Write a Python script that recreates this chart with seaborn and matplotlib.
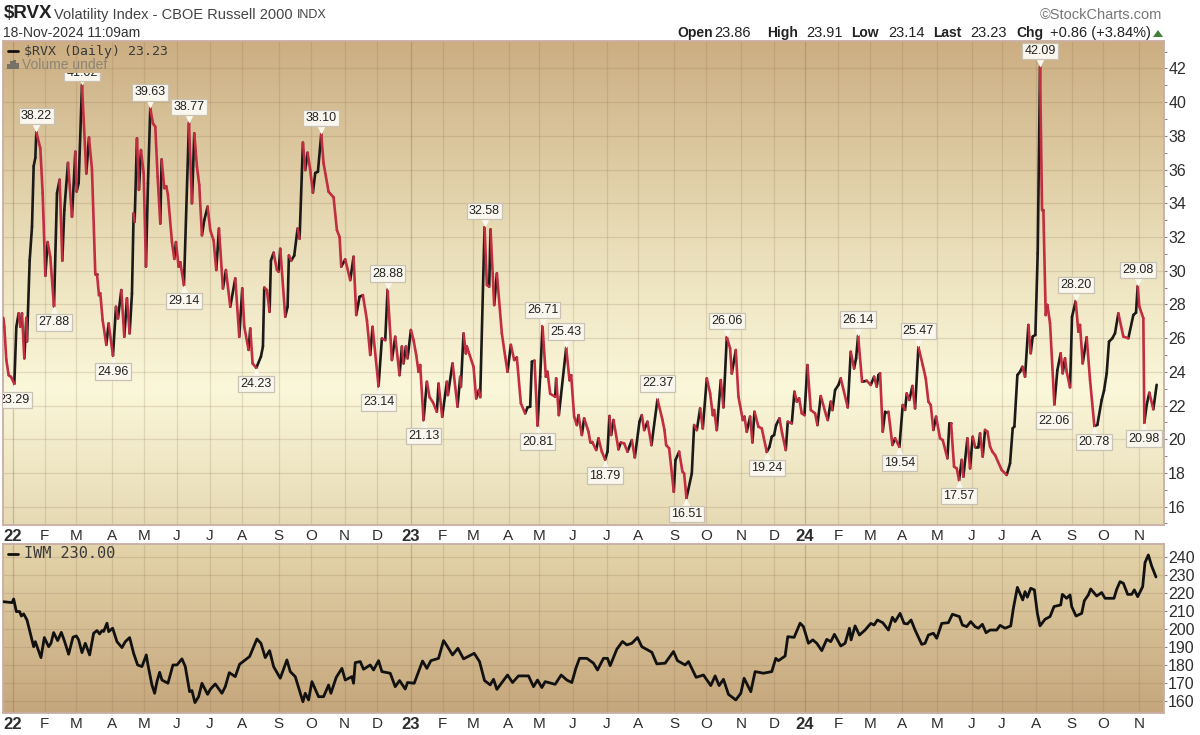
#!/usr/bin/env python3
import matplotlib
matplotlib.use('Agg')
import matplotlib.pyplot as plt
from matplotlib.colors import LinearSegmentedColormap
from matplotlib.lines import Line2D
from matplotlib.patches import Rectangle
from matplotlib.transforms import Bbox, TransformedBbox, offset_copy
import numpy as np
import pandas as pd
import seaborn as sns

# time axis is in chart steps, about five steps to a trading session
rvx_t = [9, 12, 18, 25, 32, 42, 48, 55, 60, 65, 72, 78, 80, 88, 95, 100, 105, 108, 120, 127,
         135, 142, 150, 161, 170, 178, 186, 192, 203, 215, 225, 229, 235, 245, 258, 266, 275, 285, 290, 296,
         300, 307, 318, 325, 338, 347, 353, 363, 372, 380, 388, 395, 400, 403, 410, 416, 422, 430, 437, 443,
         450, 458, 465, 472, 480, 484, 492, 498, 503, 515, 522, 527, 535, 540, 551, 566, 575, 582, 590, 597,
         605, 612, 622, 630, 640, 648, 656, 668, 677, 690, 705, 717, 726, 732, 745, 750, 757, 768, 782, 788,
         792, 800, 808, 812, 820, 830, 835, 840, 855, 862, 866, 873, 882, 892,
         898, 908, 915, 922, 930, 938, 945, 953, 963, 970, 985, 1000, 1010, 1018, 1023, 1035, 1050, 1060, 1068, 1078,
         1088, 1100, 1110, 1117, 1135, 1145, 1155, 1162, 1175, 1185, 1198, 1205, 1210, 1217, 1222, 1232, 1240, 1248, 1255, 1260,
         1270, 1280, 1288, 1298, 1310, 1315, 1326, 1340, 1343, 1357, 1372, 1380, 1382, 1390, 1397, 1400, 1420, 1428, 1436, 1440,
         1453, 1460, 1467, 1471, 1482, 1490, 1505, 1515, 1522, 1532, 1542, 1550, 1562, 1575, 1582, 1590, 1595, 1603, 1612, 1620,
         1627, 1637, 1642, 1650, 1665, 1668, 1676, 1682, 1698, 1708, 1713, 1722, 1730, 1735, 1745, 1752, 1765, 1770,
         1776, 1788, 1795, 1805, 1815, 1822, 1828, 1833, 1840, 1855, 1862, 1872, 1882, 1895, 1904, 1918, 1925, 1932, 1942, 1954,
         1972, 1987, 1993, 1998, 2007, 2021, 2026, 2037, 2047, 2052, 2059, 2075, 2082, 2090, 2100, 2108, 2120, 2130, 2138, 2142,
         2150, 2162, 2170, 2180, 2190, 2195, 2207, 2215, 2228, 2233, 2240, 2250, 2257, 2263, 2275, 2285, 2300, 2308, 2315, 2322,
         2328, 2338, 2346, 2357, 2363, 2375, 2383, 2390, 2397, 2405, 2413, 2422, 2432, 2445, 2452, 2462, 2478, 2483, 2492, 2497,
         2505, 2515, 2522, 2543, 2552, 2562, 2568, 2574, 2586, 2600,
         2612, 2622, 2630, 2635, 2640, 2648, 2655, 2665, 2677, 2685, 2698, 2708, 2715, 2720, 2728, 2737, 2745, 2755, 2768, 2777,
         2785, 2792, 2800, 2808, 2820, 2828, 2842, 2848, 2853, 2862, 2870, 2877, 2885, 2890, 2902, 2910, 2918, 2925, 2935, 2940,
         2948, 2955, 2962, 2970, 2977, 2985, 3005, 3020, 3030, 3038, 3043, 3052, 3060, 3067, 3075, 3085, 3092, 3098, 3106, 3113,
         3120, 3126, 3130, 3137, 3142, 3150, 3163, 3172, 3182, 3188, 3195, 3200, 3210, 3216, 3227, 3235, 3240, 3248, 3260, 3270,
         3283, 3292, 3305, 3312, 3320, 3327, 3337, 3345, 3355, 3370, 3385, 3400, 3408, 3413, 3418, 3430, 3433, 3440, 3448, 3460, 3470]
rvx_v = [27.2, 26.67, 24.7, 23.8, 23.7, 23.29, 26.67, 27.47, 26.67, 27.47, 24.8, 27.2, 25.8, 30.6, 32.6, 36.2, 36.7, 38.22, 37.26, 34.6,
         29.7, 31.7, 30.8, 27.88, 34.6, 35.4, 30.6, 33.6, 36.4, 33.2, 37.06, 34.7, 35.2, 41.02, 35.77, 37.9, 36.0, 29.8, 29.8, 28.55,
         28.65, 27.07, 25.6, 26.87, 24.96, 27.86, 27.17, 28.85, 26.08, 28.36, 26.28, 28.65, 33.4, 32.9, 37.85, 34.8, 37.16, 35.8, 30.24, 35.18,
         39.63, 38.74, 38.54, 35.58, 32.8, 36.6, 34.9, 35.0, 34.5, 31.7, 30.7, 31.7, 30.24, 30.5, 29.14, 38.77, 34.0, 38.15, 36.17, 35.08,
         32.1, 33.0, 33.8, 32.4, 31.8, 30.04, 32.5, 28.95, 30.04, 27.86, 29.54, 26.08, 28.95, 26.67, 25.3, 26.57, 24.5, 24.23, 24.9, 25.5,
         29.0, 28.85, 27.56, 30.6, 31.07, 30.04, 29.94, 31.3, 27.27, 27.86, 30.9, 30.6, 30.9, 32.5,
         31.9, 37.6, 35.97, 37.0, 35.97, 34.63, 35.8, 35.87, 38.10, 36.37, 34.69, 34.35, 32.41, 32.0, 30.24, 30.67, 29.44, 30.83, 27.37, 28.45,
         28.55, 27.07, 25.0, 26.67, 23.14, 25.98, 25.88, 28.88, 24.7, 26.08, 23.8, 25.5, 24.5, 25.5, 24.8, 26.48, 25.88, 25.0, 24.0, 24.4,
         21.13, 23.41, 22.5, 22.2, 21.63, 23.3, 21.33, 23.41, 22.62, 24.5, 21.93, 23.71, 23.1, 26.28, 25.09, 25.5, 24.3, 22.42, 22.92, 22.5,
         32.58, 29.15, 29.05, 32.45, 27.96, 29.84, 26.28, 24.9, 24.0, 25.6, 24.7, 24.85, 22.13, 21.53, 21.89, 21.93, 24.6, 24.66, 20.81, 23.71,
         26.71, 23.71, 24.0, 22.7, 22.52, 23.61, 21.43, 22.52, 25.43, 23.5, 23.8, 21.33, 20.84, 21.43, 20.25, 21.24, 20.44, 19.85,
         19.85, 19.36, 20.05, 19.26, 18.79, 19.26, 21.38, 20.25, 21.14, 19.4, 19.81, 19.75, 19.26, 19.95, 18.92, 21.04, 21.43, 20.54, 21.04, 19.65,
         22.37, 21.14, 20.54, 19.65, 19.46, 16.88, 18.76, 19.26, 18.07, 17.97, 16.51, 17.97, 20.84, 20.54, 21.83, 20.64, 23.61, 22.72, 21.43, 21.73,
         20.54, 23.51, 21.89, 26.06, 25.39, 23.9, 25.29, 22.52, 21.14, 21.34, 20.44, 21.34, 19.81, 21.63, 20.74, 20.64, 19.24, 19.55, 20.15, 20.25,
         20.84, 21.24, 20.35, 19.36, 21.04, 20.94, 22.82, 22.23, 22.42, 21.53, 21.43, 24.4, 21.73, 21.53, 20.84, 22.56, 21.43, 21.14, 22.23, 21.73,
         22.92, 23.22, 23.61, 21.89, 25.19, 24.2, 24.8, 26.14, 23.41, 23.47,
         23.22, 23.71, 23.12, 23.81, 23.91, 20.45, 21.64, 21.64, 19.66, 20.05, 19.54, 22.03, 21.74, 22.72, 22.33, 23.16, 21.83, 25.47, 24.4, 23.61,
         22.23, 22.03, 20.55, 21.34, 20.05, 19.95, 18.87, 20.94, 20.94, 18.37, 18.27, 17.57, 18.77, 17.78, 20.05, 18.27, 20.15, 19.56, 19.56, 20.35,
         18.97, 20.55, 20.45, 19.56, 19.26, 19.06, 18.17, 17.88, 18.57, 20.65, 20.75, 23.81, 24.0, 24.3, 23.71, 26.78, 25.1, 26.09, 26.19, 31.03,
         42.09, 33.6, 33.6, 27.37, 27.97, 26.88, 22.06, 24.1, 25.1, 23.91, 24.8, 24.0, 23.08, 27.27, 28.20, 26.38, 26.78, 24.5, 26.05, 23.52,
         20.78, 20.85, 22.33, 22.88, 23.91, 25.79, 25.99, 26.29, 27.47, 26.09, 25.99, 27.37, 27.51, 29.08, 27.87, 27.18, 20.98, 22.03, 22.76, 21.78, 23.23]

iwm_t = [9, 35, 40, 48, 58, 63, 70, 80, 90, 100, 105, 112, 122, 132, 145, 152, 160, 172, 183, 192,
         205, 218, 228, 235, 245, 255, 268, 280, 290, 298, 305, 310, 320, 325, 337, 350, 365, 375, 388, 400,
         412, 425, 438, 443, 455, 463, 470, 478, 485, 503, 518, 530, 545, 555, 568, 575, 584, 595, 605, 622,
         630, 645, 665, 675, 687, 705, 718, 748, 770, 782, 795, 808, 820, 840, 860, 870, 885, 908, 915, 925,
         935, 955, 970, 985, 992, 1008, 1025, 1035, 1055, 1060, 1065, 1080, 1090, 1110, 1120, 1135, 1145, 1170,
         1185, 1198, 1215, 1222, 1242, 1267, 1280, 1292, 1315, 1330, 1342, 1357, 1373, 1390, 1422, 1438, 1453, 1470, 1480, 1490,
         1522, 1537, 1555, 1585, 1600, 1612, 1625, 1635, 1665, 1683, 1700, 1715, 1727, 1738, 1760, 1780, 1792, 1810, 1822, 1830,
         1850, 1867, 1880, 1895, 1912, 1925, 1955, 1970, 1995, 2020, 2032, 2055, 2065, 2088, 2110, 2132, 2145, 2157, 2170, 2185,
         2207, 2222, 2232, 2252, 2265, 2290, 2315, 2327, 2335, 2355, 2363, 2382, 2400, 2410, 2425,
         2438, 2450, 2465, 2480, 2492, 2503, 2522, 2535, 2548, 2553, 2565, 2578, 2595, 2612, 2622, 2632, 2648, 2665, 2677, 2685,
         2700, 2712, 2722, 2733, 2745, 2765, 2775, 2785, 2800, 2810, 2825, 2845, 2857, 2878, 2887, 2900, 2912, 2925, 2935, 2947,
         2958, 2970, 2990, 3000, 3015, 3032, 3040, 3052, 3068, 3075, 3082, 3092, 3103, 3112, 3120, 3135, 3150, 3162, 3182, 3187,
         3200, 3210, 3215, 3228, 3245, 3253, 3265, 3272, 3290, 3305, 3315, 3342, 3350, 3360, 3370, 3383, 3395, 3403, 3413, 3428,
         3435, 3445, 3455, 3468]
iwm_v = [215.2, 214.7, 216.7, 209.7, 209.7, 207.2, 208.4, 205.0, 197.6, 190.1, 192.9, 189.2, 184.0, 195.2, 190.1, 192.0, 198.0, 193.5, 198.1, 193.5,
         185.9, 195.4, 196.1, 193.9, 186.8, 192.0, 185.5, 197.6, 199.1, 197.2, 199.1, 198.6, 203.2, 198.5, 200.4, 192.9, 189.6, 192.9, 195.2, 186.4,
         179.9, 179.0, 185.5, 179.9, 168.7, 164.1, 170.6, 175.8, 171.5, 169.7, 179.9, 179.9, 183.3, 179.0, 165.0, 165.6, 158.9, 162.2, 169.7, 163.5,
         166.3, 169.3, 164.1, 167.8, 175.6, 173.4, 180.3, 184.6, 194.4, 192.0, 184.0, 187.9, 179.0, 172.5, 182.7, 176.2, 173.4, 159.4, 164.1, 160.4,
         170.6, 162.2, 162.2, 168.7, 164.1, 173.0, 178.0, 171.5, 173.4, 169.7, 181.2, 181.8, 177.5, 179.9, 177.1, 182.3, 176.2, 175.3,
         167.8, 171.2, 166.5, 170.1, 169.7, 182.1, 178.0, 182.3, 183.6, 193.5, 190.1, 185.5, 189.2, 183.3, 186.4, 181.8, 171.2, 168.8, 171.9, 166.3,
         174.3, 170.1, 173.8, 173.8, 167.8, 171.5, 167.3, 170.6, 169.1, 174.3, 171.5, 170.1, 178.0, 183.6, 183.6, 180.9, 177.1, 183.6, 183.6, 179.5,
         188.7, 193.0, 191.1, 192.0, 195.2, 190.1, 187.0, 180.5, 180.9, 187.4, 182.3, 179.9, 181.8, 173.0, 174.3, 168.4, 173.8, 168.4, 171.9, 163.5,
         160.4, 164.1, 172.5, 165.0, 176.2, 175.3, 176.2, 183.6, 182.3, 184.9, 195.7, 195.3, 203.2, 201.3, 192.0,
         193.9, 192.0, 187.9, 194.2, 192.9, 197.0, 190.5, 192.0, 200.4, 193.9, 201.7, 196.6, 199.4, 203.1, 202.2, 205.0, 203.5, 199.4, 206.5, 204.1,
         208.7, 203.1, 202.8, 205.0, 199.4, 191.4, 192.0, 196.6, 197.6, 194.8, 203.1, 203.5, 208.2, 206.9, 202.2, 201.3, 204.1, 201.3, 200.4, 202.6,
         197.9, 199.4, 199.4, 202.0, 200.4, 201.7, 211.5, 223.2, 216.2, 220.8, 217.7, 222.7, 221.8, 208.7, 201.7, 205.4, 206.9, 212.5, 213.4, 219.3,
         217.1, 219.0, 212.5, 207.2, 208.7, 215.8, 219.0, 222.3, 218.4, 220.3, 217.1, 217.1, 222.1, 226.4, 225.5, 219.3, 219.3, 221.8, 218.0, 223.6,
         237.0, 241.3, 235.1, 229.0]

rvx_peaks = [38.22, 41.02, 39.63, 38.77, 38.10, 32.58, 28.88, 26.71, 25.43, 22.37, 26.06, 26.14, 25.47, 42.09, 28.20, 29.08]
rvx_lows = [23.29, 27.88, 24.96, 29.14, 24.23, 23.14, 21.13, 20.81, 18.79, 16.51, 19.24, 19.54, 17.57, 22.06, 20.78, 20.98]

month_t = [38, 133, 228, 336, 432, 530, 628, 726, 835, 933, 1033, 1130,
           1232, 1327, 1418, 1525, 1616, 1717, 1820, 1915, 2022, 2118, 2223, 2322,
           2415, 2515, 2610, 2705, 2812, 2915, 3005, 3108, 3215, 3310, 3417]
month_labels = ['22', 'F', 'M', 'A', 'M', 'J', 'J', 'A', 'S', 'O', 'N', 'D',
                '23', 'F', 'M', 'A', 'M', 'J', 'J', 'A', 'S', 'O', 'N', 'D',
                '24', 'F', 'M', 'A', 'M', 'J', 'J', 'A', 'S', 'O', 'N']
rvx_ticks = list(range(16, 43, 2))
iwm_ticks = list(range(160, 241, 10))

W, H = 1200, 735
BLACK = '#1c1a18'
RED = '#c22d40'
TXT = '#2e2e2e'
GRID = '#8a6a4c'
EDGE = '#c8aea6'
BOX = '#faf7ee'
BOX_EDGE = '#c9c2b4'


def Panel(fig, top, bottom, colors, stops):
    ax = fig.add_axes([3 / W, 1 - bottom / H, 1161 / W, (bottom - top) / H])
    cmap = LinearSegmentedColormap.from_list('bg', list(zip(stops, colors)))
    ax.imshow(np.linspace(0, 1, 256).reshape(-1, 1), cmap=cmap, aspect='auto', extent=(0, 1, 0, 1),
              transform=ax.transAxes, zorder=0, vmin=0, vmax=1, origin='lower')
    return ax


def Dress(ax, ylim, yticks):
    ax.set_xlim(8, 3492)
    ax.set_ylim(*ylim)
    ax.set_xticks(month_t)
    ax.set_xticklabels(month_labels, fontsize=11, color=TXT)
    for lab, text in zip(ax.get_xticklabels(), month_labels):
        if text.isdigit():
            lab.set_fontweight('bold')
            lab.set_fontsize(12)
    ax.tick_params(axis='x', length=0, pad=3)
    ax.yaxis.tick_right()
    ax.set_yticks(yticks)
    ax.tick_params(axis='y', length=2, width=0.8, color='#8c8278', labelsize=11.5, labelcolor=TXT, pad=1)
    ax.grid(True, color=GRID, alpha=0.2, lw=0.9)
    ax.set_axisbelow(True)
    ax.set_xlabel('')
    ax.set_ylabel('')
    for s in ax.spines.values():
        s.set_color(EDGE)
        s.set_linewidth(1.3)


def RvxFrame():
    rows = []
    for i in range(len(rvx_t) - 1):
        d = 'up' if rvx_v[i + 1] >= rvx_v[i] else 'down'
        rows.append((i, d, rvx_t[i], rvx_v[i]))
        rows.append((i, d, rvx_t[i + 1], rvx_v[i + 1]))
    return pd.DataFrame(rows, columns=['seg', 'dir', 't', 'v'])


def Tag(fig, ax, value, above):
    i = rvx_v.index(value)
    x, y = rvx_t[i], rvx_v[i]
    sign = 1 if above else -1
    gap = 12 if value == 41.02 else 16
    t = ax.annotate(f'{value:.2f}', (x, y), xytext=(0, sign * gap), textcoords='offset pixels',
                    ha='center', va='center', fontsize=9, color='#222222', zorder=6,
                    bbox=dict(boxstyle='square,pad=0.18', fc=BOX, ec=BOX_EDGE, lw=0.9))
    # small pointer from the tag to the turning point, tucked under the tag
    ax.plot([x], [y], marker='v' if above else '^', ms=8.5, mfc=BOX, mec='none', zorder=5,
            transform=offset_copy(ax.transData, fig=fig, x=0, y=sign * 6, units='dots'))
    if value == 41.02:
        # the legend strip hides the top of this tag
        t.set_clip_box(TransformedBbox(Bbox([[0, 0], [1, 1 - 73 / H]]), fig.transFigure))
        t.set_clip_on(True)
    elif value == 23.29:
        t.set_clip_box(ax.bbox)
        t.set_clip_on(True)


def Put(fig, x, y, s, **kw):
    kw.setdefault('va', 'center')
    kw.setdefault('color', TXT)
    fig.text(x / W, 1 - y / H, s, **kw)


def Header(fig):
    Put(fig, 4, 14, r'\$RVX', fontsize=13.5, fontweight='bold', color='#222222')
    Put(fig, 54, 15, 'Volatility Index - CBOE Russell 2000', fontsize=10.5, color='#444444')
    Put(fig, 297, 15, 'INDX', fontsize=9, color='#444444')
    Put(fig, 3, 33, '18-Nov-2024 11:09am', fontsize=10, color='#333333')
    Put(fig, 1040, 15, '©StockCharts.com', fontsize=10.5, color='#777777')
    for x, s, bold in [(677, 'Open', True), (714, '23.86', False), (767, 'High', True), (806, '23.91', False),
                       (851, 'Low', True), (888, '23.14', False), (933, 'Last', True), (970, '23.23', False),
                       (1016, 'Chg', True), (1050, '+0.86 (+3.84%)', False)]:
        Put(fig, x, 33, s, fontsize=10 if bold else 10.5, fontweight='bold' if bold else 'normal', color='#222222')
    fig.add_artist(plt.Polygon([[1153 / W, 1 - 37 / H], [1163 / W, 1 - 37 / H], [1158 / W, 1 - 30 / H]],
                               closed=True, fc='#3f7f3a', ec='none', transform=fig.transFigure))


def Legends(fig):
    mono = 'DejaVu Sans Mono'
    fig.add_artist(Line2D([8 / W, 18 / W], [1 - 50.5 / H] * 2, color='#111111', lw=2, zorder=8))
    Put(fig, 24, 51, r'\$RVX (Daily) 23.23', fontsize=9.5, family=mono, color='#3a3a3a', zorder=8)
    for x, y0 in [(7, 64), (10, 61), (13, 60), (16, 63)]:
        fig.add_artist(Rectangle((x / W, 1 - 69 / H), 2.6 / W, (69 - y0) / H, transform=fig.transFigure,
                                 fc='#777268', ec='none', zorder=8))
    Put(fig, 22, 65, 'Volume undef', fontsize=10, color='#8b8475', zorder=8)
    fig.add_artist(Line2D([8 / W, 18 / W], [1 - 553.5 / H] * 2, color='#111111', lw=2, zorder=8))
    Put(fig, 24, 554, 'IWM 230.00', fontsize=11, family=mono, color='#3a3a3a', zorder=8)


def main():
    sns.set_style('white')
    plt.rcParams['font.family'] = ['Liberation Sans', 'DejaVu Sans']
    fig = plt.figure(figsize=(W / 100, H / 100), dpi=100)

    ax1 = Panel(fig, 41, 525, ['#e6dab4', '#fbf7da', '#e8dcb6', '#ccae82'], [0, 0.28, 0.6, 1])
    sns.lineplot(data=RvxFrame(), x='t', y='v', hue='dir', units='seg', estimator=None, sort=False,
                 palette={'up': BLACK, 'down': RED}, hue_order=['up', 'down'], lw=1.9, legend=False,
                 solid_capstyle='round', ax=ax1, zorder=3)
    Dress(ax1, (14.91, 43.63), rvx_ticks)
    ax1.set_yticks([v for v in range(15, 44) if v % 2], minor=True)
    ax1.tick_params(axis='y', which='minor', length=2, width=0.7, color='#8c8278')
    for v in rvx_peaks:
        Tag(fig, ax1, v, True)
    for v in rvx_lows:
        Tag(fig, ax1, v, False)

    ax2 = Panel(fig, 544, 713, ['#c5a67c', '#e4d4aa'], [0, 1])
    sns.lineplot(x=iwm_t, y=iwm_v, color='#111111', lw=2.0, estimator=None, sort=False, ax=ax2, zorder=3)
    Dress(ax2, (153.1, 247.4), iwm_ticks)

    # year lines stand out a little from the month lines
    for ax in (ax1, ax2):
        for x, text in zip(month_t, month_labels):
            if text.isdigit():
                ax.axvline(x, color=GRID, alpha=0.18, lw=0.9, zorder=1)

    Header(fig)
    Legends(fig)
    fig.savefig('out.png', dpi=100, facecolor='white')
    plt.close(fig)


if __name__ == '__main__':
    main()
